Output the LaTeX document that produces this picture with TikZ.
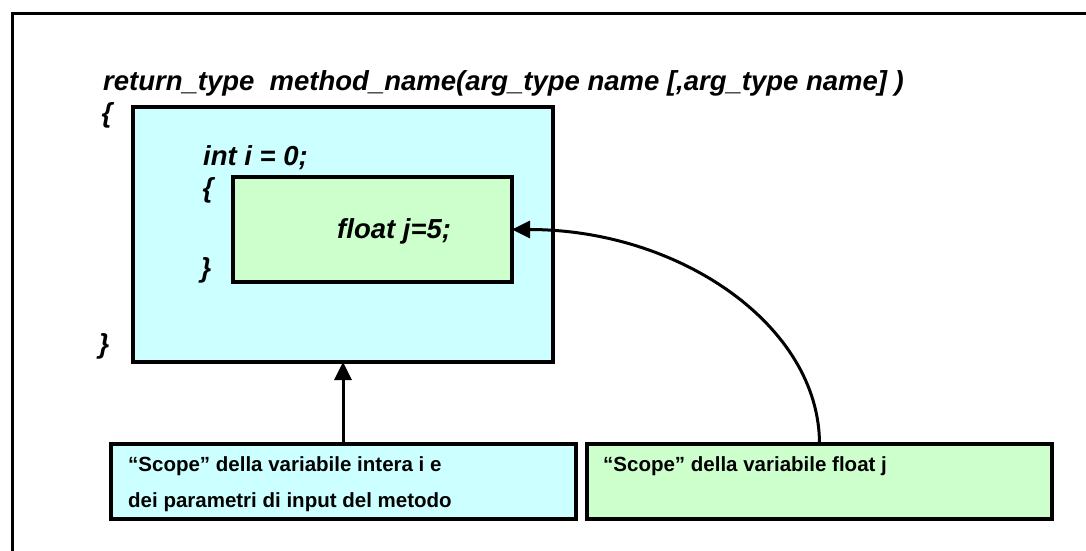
\documentclass[tikz,border=0pt]{standalone}
\usepackage{fontspec}
\setmainfont{Liberation Sans}
\usetikzlibrary{arrows.meta,calc}
\definecolor{cyanfill}{HTML}{CCFFFF}
\definecolor{greenfill}{HTML}{CCFFCC}
\tikzset{
  box/.style={draw=black, line width=4.5pt, inner sep=0pt, outer sep=0pt},
  code/.style={inner sep=0pt, font=\fontsize{27.5}{30}\selectfont\bfseries\itshape},
  label/.style={inner sep=0pt, font=\fontsize{20.5}{36}\selectfont\bfseries, align=left},
  arr/.style={line width=3pt, -{Triangle[length=18pt,width=17pt]}},
}
\begin{document}
\begin{tikzpicture}[x=1pt,y=-1pt]
\useasboundingbox (0,0) rectangle (1086,550);
\clip (0,0) rectangle (1086,550);
\fill[white] (0,0) rectangle (1086,550);
\draw[line width=3pt] (12,600) -- (12,13) -- (1200,13);

\node[code, anchor=base west] (title) at (103,90) {return\_type\ \ method\_name(arg\_type name [,arg\_type name] )};

\node[box, fill=cyanfill, minimum width=420pt, minimum height=255pt] (outer) at (343,234.5) {};
\node[box, fill=greenfill, minimum width=279pt, minimum height=105pt] (inner) at (372.5,229.5) {};

\node[code] (ob) at (107,115) {\{};
\node[code] (cb) at (104,346) {\}};
\node[code, anchor=base west] (inti) at (203,165) {int i = 0;};
\node[code] (iob) at (208,190) {\{};
\node[code] (icb) at (206,270) {\}};
\node[code, anchor=base west] (floatj) at (337,238) {float j=5;};

\node[box, fill=cyanfill, minimum width=465pt, minimum height=75pt] (bl) at (343.5,481.5) {};
\node[box, fill=greenfill, minimum width=465pt, minimum height=75pt] (br) at (819.5,481.5) {};

\node[label, anchor=base west] (bltext) at (128,507) {“Scope” della variabile intera i e\\dei parametri di input del metodo};
\node[label, anchor=base west] (brtext) at (603,471) {“Scope” della variabile float j};

\draw[arr] (bl.north -| 343,0) -- (outer.south -| 343,0);
\draw[arr] (br.north) .. controls ($(br.north)+(0,-118)$) and ($(inner.east)+(168,0)$) .. (inner.east);
\end{tikzpicture}
\end{document}
